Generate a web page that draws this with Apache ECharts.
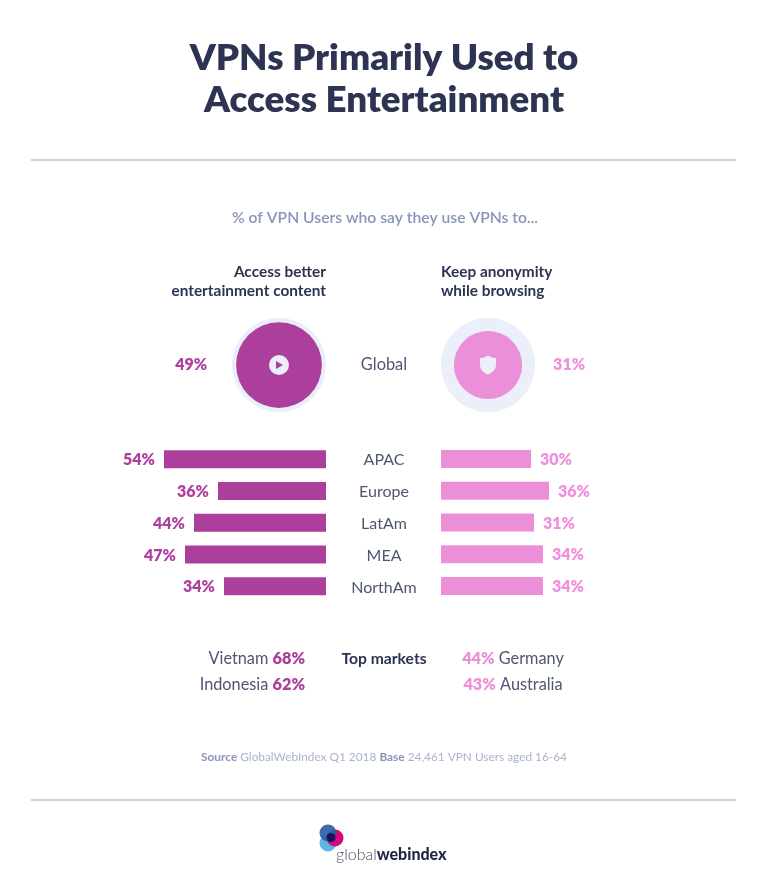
<!DOCTYPE html>
<html>
<head>
<meta charset="utf-8">
<title>VPNs Primarily Used to Access Entertainment</title>
<script src="https://cdn.jsdelivr.net/npm/echarts@6/dist/echarts.min.js"></script>
<style>
    html, body { margin: 0; padding: 0; background: #fff; }
    #chart { width: 768px; height: 896px; }
</style>
</head>
<body>
<div id="chart"></div>
<script>
var regions = ["APAC", "Europe", "LatAm", "MEA", "NorthAm"];
var entertainment = [54, 36, 44, 47, 34];
var anonymity = [30, 36, 31, 34, 34];
var globalLabel = ["Global"];
var drivers = ["Access better\nentertainment content", "Keep anonymity\nwhile browsing"];
var globalValues = [49, 31];
var topEntertainment = [["Vietnam", 68], ["Indonesia", 62]];
var topAnonymity = [["Germany", 44], ["Australia", 43]];

var FONT = "Lato";
var DARK = "#2d3452";
var SLATE = "#4f5673";
var MUTED = "#8a94b8";
var PURPLE = "#ab3f9b";
var PINK = "#eb90d8";
var PALE = "#eaeffa";
var RULE = "#b4c2de";

// 圆面积按数值缩放
function circleSize(v) {
    return Math.sqrt(v) * 12.25;
}

function text(x, y, str, size, weight, fill, align, extra) {
    var style = {
        x: x, y: y, text: str, fontFamily: FONT, fontSize: size, fontWeight: weight,
        fill: fill, align: align, verticalAlign: "middle"
    };
    if (extra) {
        for (var k in extra) style[k] = extra[k];
    }
    return {type: "text", silent: true, style: style};
}

function rule(y) {
    return {type: "line", silent: true, shape: {x1: 31, y1: y, x2: 736, y2: y}, style: {stroke: RULE, lineWidth: 1.5}};
}

function marketText(x, y, row, leftSide, align) {
    var name = "{n|" + row[0] + "}";
    var pct = "{" + (leftSide ? "l" : "r") + "|" + row[1] + "%}";
    return text(x, y, leftSide ? name + " " + pct : pct + " " + name, 16.3, 400, SLATE, align, {
        rich: {
            n: {fontFamily: FONT, fontSize: 16.3, fill: SLATE},
            l: {fontFamily: FONT, fontSize: 16.3, fontWeight: 800, fill: PURPLE},
            r: {fontFamily: FONT, fontSize: 16.3, fontWeight: 800, fill: PINK}
        }
    });
}

function logo() {
    var items = [
        {type: "circle", silent: true, shape: {cx: 328, cy: 843, r: 8.5}, style: {fill: "#5cb6e6"}},
        {type: "circle", silent: true, shape: {cx: 335, cy: 838, r: 8.5}, style: {fill: "#d6087e"}},
        {type: "circle", silent: true, shape: {cx: 328, cy: 833, r: 8.5}, style: {fill: "#2c5ba6", opacity: 0.9}},
        {type: "circle", silent: true, shape: {cx: 331, cy: 837.5, r: 4.5}, style: {fill: "#16185e"}},
        text(336, 855, "{a|global}{b|webindex}", 16, 400, DARK, "left", {
            rich: {
                a: {fontFamily: FONT, fontSize: 16, fontWeight: 300, fill: "#4a4f5e"},
                b: {fontFamily: FONT, fontSize: 16, fontWeight: 900, fill: "#1f2740"}
            }
        })
    ];
    return items;
}

var graphics = [
    text(384, 79.5, "VPNs Primarily Used to\nAccess Entertainment", 36.7, 800, DARK, "center", {lineHeight: 42}),
    rule(160),
    text(385, 218, "% of VPN Users who say they use VPNs to...", 15.7, 600, MUTED, "center"),
    text(326, 282, drivers[0], 15.4, 700, DARK, "right", {lineHeight: 19}),
    text(441, 282, drivers[1], 15.4, 700, DARK, "left", {lineHeight: 19}),
    text(384, 659, "Top markets", 15.7, 700, DARK, "center"),
    marketText(305, 659, topEntertainment[0], true, "right"),
    marketText(305, 685, topEntertainment[1], true, "right"),
    marketText(513, 659, topAnonymity[0], false, "center"),
    marketText(513, 685, topAnonymity[1], false, "center"),
    text(384, 757, "{b|Source} GlobalWebIndex Q1 2018 {b|Base} 24,461 VPN Users aged 16-64", 11.85, 400, "#a9b3cf", "center", {
        rich: {
            b: {fontFamily: FONT, fontSize: 11.85, fontWeight: 700, fill: MUTED}
        }
    }),
    rule(800)
].concat(logo());

function barSeries(name, values, idx, color, labelColor, side) {
    return {
        name: name,
        type: "bar",
        xAxisIndex: idx,
        yAxisIndex: idx,
        data: values,
        barWidth: 18,
        itemStyle: {color: color},
        label: {
            show: true,
            position: side,
            distance: 9,
            offset: [0, 1],
            formatter: "{c}%",
            color: labelColor,
            fontFamily: FONT,
            fontSize: 16,
            fontWeight: 800
        },
        silent: true
    };
}

function globalPoint(i) {
    return [i, 0, globalValues[i]];
}

function globalLabelStyle(side, color, distance) {
    return {
        show: true,
        position: side,
        distance: distance,
        formatter: function (p) { return p.value[2] + "%"; },
        color: color,
        fontFamily: FONT,
        fontSize: 16,
        fontWeight: 800
    };
}

var option = {
    animation: false,
    backgroundColor: "#fff",
    graphic: graphics,
    grid: [
        {left: 26, top: 443.4, width: 300, height: 158.75},
        {left: 441, top: 443.1, width: 300, height: 158.75},
        {left: 174.5, top: 318, width: 418, height: 94},
        // 中间的地区标签单独一个网格，行距比条形略大
        {left: 441, top: 444, width: 300, height: 160}
    ],
    xAxis: [
        {gridIndex: 0, type: "value", min: 0, max: 100, inverse: true, show: false},
        {gridIndex: 1, type: "value", min: 0, max: 100, show: false},
        {gridIndex: 2, type: "category", data: drivers, show: false},
        {gridIndex: 3, type: "value", min: 0, max: 100, show: false}
    ],
    yAxis: [
        {gridIndex: 0, type: "category", data: regions, inverse: true, show: false},
        {gridIndex: 1, type: "category", data: regions, inverse: true, show: false},
        {
            gridIndex: 2,
            type: "category",
            data: globalLabel,
            axisLine: {show: false},
            axisTick: {show: false},
            axisLabel: {margin: -209.5, align: "center", color: SLATE, fontFamily: FONT, fontSize: 16.4}
        },
        {
            gridIndex: 3,
            type: "category",
            data: regions,
            inverse: true,
            axisLine: {show: false},
            axisTick: {show: false},
            axisLabel: {margin: 57, align: "center", color: SLATE, fontFamily: FONT, fontSize: 16}
        }
    ],
    series: [
        barSeries("Access better entertainment content", entertainment, 0, PURPLE, "#b0409f", "left"),
        barSeries("Keep anonymity while browsing", anonymity, 1, PINK, "#ef8fdd", "right"),
        {
            type: "scatter", xAxisIndex: 2, yAxisIndex: 2, silent: true,
            data: [globalPoint(0), globalPoint(1)],
            symbolSize: 94,
            itemStyle: {color: PALE, opacity: 1}
        },
        {
            type: "scatter", xAxisIndex: 2, yAxisIndex: 2, silent: true,
            data: [globalPoint(0)],
            symbolSize: function (v) { return circleSize(v[2]); },
            itemStyle: {color: PURPLE, opacity: 1},
            label: globalLabelStyle("left", "#b0409f", 29)
        },
        {
            type: "scatter", xAxisIndex: 2, yAxisIndex: 2, silent: true,
            data: [globalPoint(1)],
            symbolSize: function (v) { return circleSize(v[2]); },
            itemStyle: {color: PINK, opacity: 1},
            label: globalLabelStyle("right", "#ef8fdd", 31)
        },
        // 播放按钮
        {
            type: "scatter", xAxisIndex: 2, yAxisIndex: 2, silent: true,
            data: [globalPoint(0)],
            symbolSize: 20,
            itemStyle: {color: PALE, opacity: 1}
        },
        {
            type: "scatter", xAxisIndex: 2, yAxisIndex: 2, silent: true,
            data: [globalPoint(0)],
            symbol: "path://M0 0 L10 6 L0 12 Z",
            symbolSize: [7, 8],
            symbolOffset: [0.5, 0],
            itemStyle: {color: PURPLE, opacity: 1}
        },
        // 盾牌图标
        {
            type: "scatter", xAxisIndex: 2, yAxisIndex: 2, silent: true,
            data: [globalPoint(1)],
            symbol: "path://M8 0 C10 1.5 13 3 16 3 L16 10 C16 15 12 18.5 8 20 C4 18.5 0 15 0 10 L0 3 C3 3 6 1.5 8 0 Z",
            symbolSize: [16, 19],
            itemStyle: {color: PALE, opacity: 1}
        }
    ]
};

var myChart = echarts.init(document.getElementById("chart"), null, {renderer: "canvas"});
myChart.setOption(option);
</script>
</body>
</html>
